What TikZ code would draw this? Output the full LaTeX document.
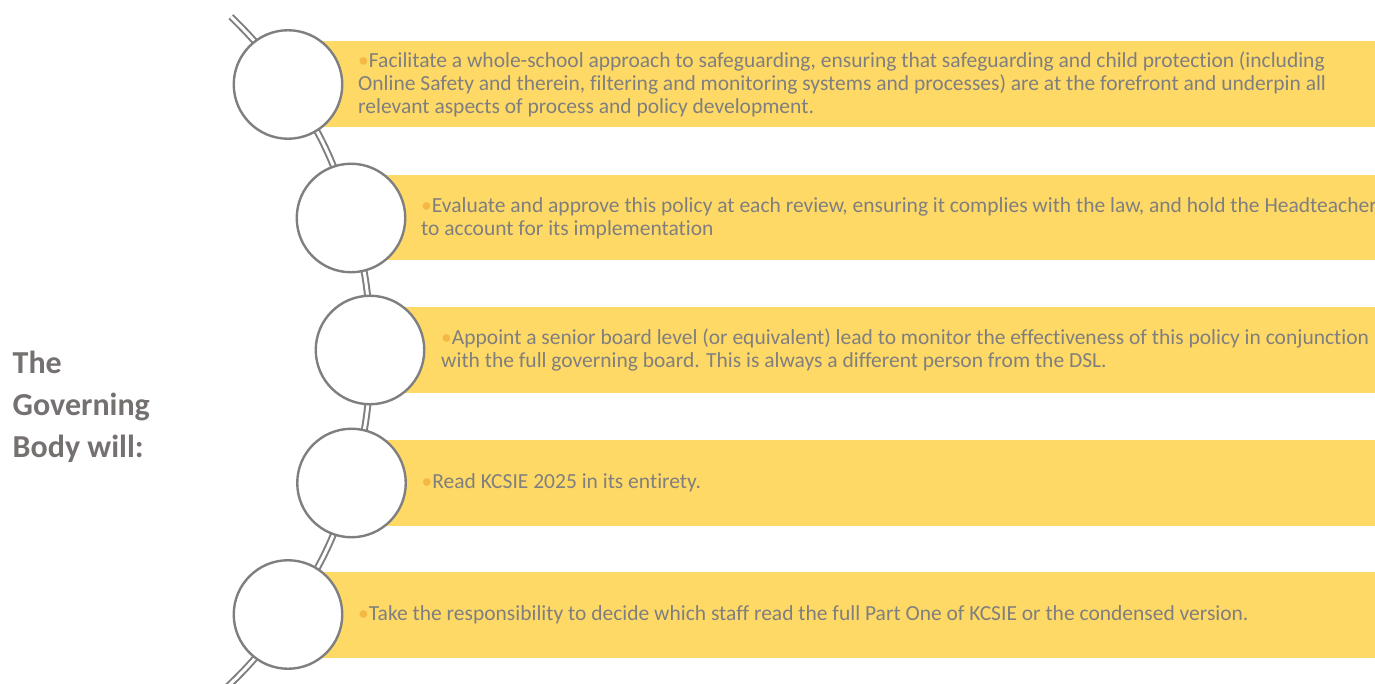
\documentclass[tikz,border=0pt]{standalone}
\usepackage{fontspec}
\setmainfont{Carlito}[Ligatures=CommonOff]
\usepackage{xcolor}
\usetikzlibrary{positioning}
\definecolor{bandcol}{HTML}{FFD966}
\definecolor{txtcol}{HTML}{7F7F7F}
\definecolor{headcol}{HTML}{767171}
\definecolor{dotcol}{HTML}{F4B942}
\tikzset{
  band/.style={fill=bandcol},
  ring/.style={circle, draw=txtcol, fill=white, line width=2.4pt, minimum size=108.5pt, inner sep=0pt},
  link/.style={draw=txtcol, line width=2pt, double=white, double distance=3pt},
  item/.style={anchor=west, inner sep=0pt, align=left, text=txtcol, font=\fontsize{21.5}{23.2}\selectfont},
}
\newcommand{\dotmark}{{\color{dotcol}\textbullet}}

\begin{document}
\begin{tikzpicture}[x=1pt, y=1pt]

\useasboundingbox (0,0) rectangle (1375,683);
\clip (0,0) rectangle (1375,683);

% Centres of the circles and ends of the chain
\coordinate (top) at (230.9,666.3);
\coordinate (c1) at (288,598.5);
\coordinate (c2) at (351,465);
\coordinate (c3) at (370,333);
\coordinate (c4) at (351.5,200);
\coordinate (c5) at (288,68.5);
\coordinate (bot) at (220.8,-10);

% Bands
\fill[band] (c1) ++(0,-43) rectangle (1375,641.5);
\fill[band] (c2) ++(0,-42.5) rectangle (1375,508);
\fill[band] (c3) ++(0,-43) rectangle (1375,376);
\fill[band] (c4) ++(0,-42.5) rectangle (1375,243);
\fill[band] (c5) ++(0,-43) rectangle (1375,111.5);

% Chain
\draw[link] (top) to[bend left=5.4] (c1)
                  to[bend left=9.05] (c2)
                  to[bend left=8.2] (c3)
                  to[bend left=8.2] (c4)
                  to[bend left=8.95] (c5)
                  to[bend left=6.35] (bot);

% Circles
\node[ring] (r1) at (c1) {};
\node[ring] (r2) at (c2) {};
\node[ring] (r3) at (c3) {};
\node[ring] (r4) at (c4) {};
\node[ring] (r5) at (c5) {};

% Texts
\node[item, right=70pt of c1] (t1) {\dotmark Facilitate a whole-school approach to safeguarding, ensuring that safeguarding and child protection (including\\
Online Safety and therein, filtering and monitoring systems and processes) are at the forefront and underpin all\\
relevant aspects of process and policy development.};
\node[item, right=70pt of c2] (t2) {\dotmark Evaluate and approve this policy at each review, ensuring it complies with the law, and hold the Headteacher\\
to account for its implementation};
\node[item, right=71pt of c3] (t3) {\dotmark Appoint a senior board level (or equivalent) lead to monitor the effectiveness of this policy in conjunction\\
with the full governing board. This is always a different person from the DSL.};
\node[item, right=70pt of c4] (t4) {\dotmark Read KCSIE 2025 in its entirety.};
\node[item, right=70pt of c5] (t5) {\dotmark Take the responsibility to decide which staff read the full Part One of KCSIE or the condensed version.};

% Heading
\node[anchor=west, inner sep=0pt, align=left, text=headcol, font=\fontsize{32}{42}\selectfont\bfseries] (head) at (12.5,276) {The\\Governing\\Body will:};

\end{tikzpicture}
\end{document}
